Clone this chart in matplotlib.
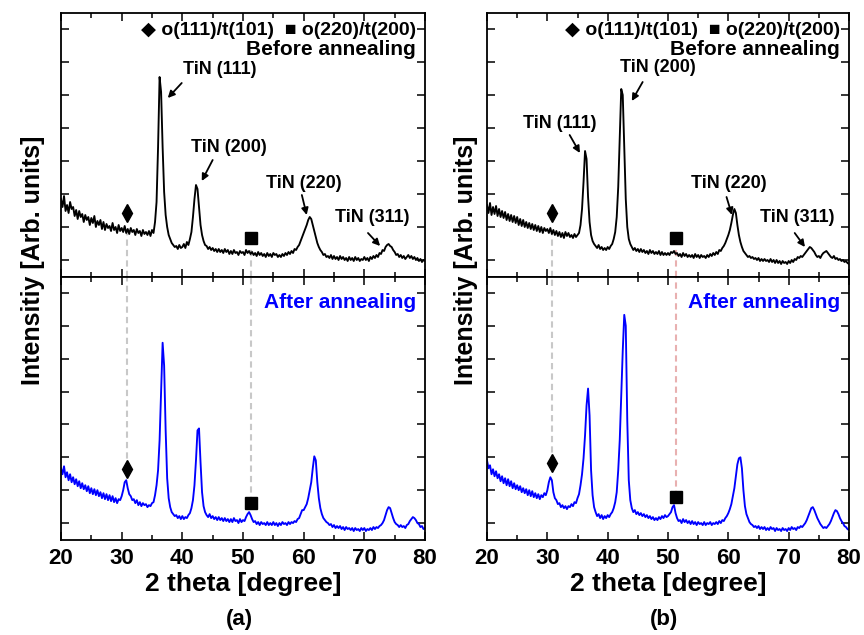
import numpy as np
import matplotlib.pyplot as plt
from matplotlib.ticker import MultipleLocator, FixedLocator

plt.rcParams['font.family'] = ['Liberation Sans', 'DejaVu Sans']
plt.rcParams['font.weight'] = 'bold'

# 2 theta grid, 0.25 degree step (241 points)
two_theta = np.linspace(20, 80, 241)

# intensities (arb. units)
a_before = [
    78, 70, 81, 66, 72, 64, 75, 68,
    70, 61, 67, 58, 66, 60, 63, 55,
    62, 57, 60, 52, 59, 54, 61, 50,
    56, 52, 57, 48, 55, 47, 53, 49,
    51, 46, 54, 47, 50, 44, 52, 46,
    49, 45, 51, 44, 48, 43, 49, 45,
    47, 42, 48, 44, 46, 41, 47, 43,
    45, 42, 46, 41, 47, 44, 55, 75,
    130, 200, 185, 130, 85, 62, 50, 42,
    38, 34, 32, 30, 31, 28, 32, 29,
    30, 33, 29, 35, 32, 38, 45, 60,
    78, 92, 88, 70, 52, 42, 36, 32,
    31, 28, 30, 27, 29, 26, 28, 25,
    28, 25, 27, 24, 28, 25, 27, 23,
    26, 23, 27, 24, 25, 22, 26, 24,
    25, 22, 27, 24, 26, 23, 25, 22,
    24, 21, 25, 22, 24, 21, 23, 20,
    24, 21, 23, 20, 24, 22, 23, 20,
    22, 20, 23, 21, 24, 22, 25, 23,
    26, 24, 28, 27, 30, 32, 36, 40,
    44, 48, 52, 57, 60, 58, 52, 46,
    40, 34, 30, 27, 25, 22, 23, 20,
    21, 19, 22, 18, 21, 18, 20, 17,
    21, 18, 20, 17, 19, 16, 20, 17,
    19, 16, 20, 17, 19, 16, 18, 17,
    20, 17, 19, 16, 20, 18, 21, 19,
    22, 20, 24, 23, 27, 26, 30, 32,
    33, 31, 30, 27, 25, 22, 23, 20,
    22, 19, 21, 18, 20, 22, 19, 21,
    18, 20, 17, 19, 16, 18, 15, 17,
    16,
]

a_after = [
    72, 66, 74, 63, 68, 60, 66, 58,
    63, 56, 61, 54, 59, 52, 57, 51,
    55, 49, 54, 47, 52, 46, 51, 45,
    50, 44, 48, 42, 47, 41, 46, 40,
    45, 39, 44, 38, 42, 37, 41, 40,
    44, 50, 58, 60, 52, 46, 44, 40,
    41, 37, 40, 35, 38, 34, 37, 35,
    36, 33, 35, 34, 37, 38, 45, 55,
    70, 100, 150, 198, 175, 110, 62, 42,
    33, 28, 26, 24, 25, 22, 24, 21,
    24, 21, 23, 22, 25, 27, 32, 40,
    55, 80, 110, 112, 78, 48, 34, 28,
    25, 23, 26, 22, 24, 21, 23, 20,
    23, 20, 22, 19, 22, 19, 21, 18,
    21, 18, 22, 19, 20, 17, 21, 18,
    20, 19, 23, 26, 28, 25, 21, 18,
    19, 16, 18, 15, 18, 16, 17, 15,
    18, 15, 17, 15, 18, 15, 17, 14,
    17, 15, 18, 16, 17, 15, 18, 16,
    18, 17, 19, 18, 21, 22, 26, 30,
    30, 33, 36, 42, 50, 58, 72, 84,
    80, 58, 42, 32, 26, 22, 20, 18,
    17, 15, 16, 13, 15, 12, 14, 12,
    14, 11, 13, 10, 13, 11, 12, 10,
    12, 9, 12, 10, 11, 9, 12, 10,
    12, 9, 11, 10, 12, 10, 13, 11,
    13, 12, 14, 15, 17, 20, 25, 30,
    33, 32, 27, 22, 18, 16, 15, 13,
    15, 13, 14, 12, 15, 16, 19, 21,
    23, 22, 20, 17, 16, 13, 14, 11,
    12,
]

b_before = [
    72, 64, 74, 62, 70, 63, 71, 61,
    68, 60, 66, 59, 65, 57, 63, 56,
    62, 55, 61, 54, 60, 52, 58, 51,
    57, 50, 55, 49, 54, 48, 53, 47,
    52, 46, 51, 45, 50, 44, 49, 46,
    48, 44, 49, 43, 47, 42, 46, 41,
    45, 40, 44, 39, 45, 41, 44, 40,
    42, 39, 43, 40, 42, 44, 52, 68,
    95, 126, 118, 80, 55, 42, 36, 33,
    31, 29, 32, 28, 30, 27, 29, 27,
    30, 28, 31, 33, 38, 45, 60, 90,
    140, 188, 182, 130, 78, 50, 38, 33,
    30, 27, 29, 26, 28, 25, 28, 25,
    27, 24, 26, 23, 27, 24, 26, 23,
    25, 23, 26, 22, 25, 22, 24, 22,
    24, 22, 25, 24, 26, 23, 24, 21,
    23, 20, 24, 21, 23, 20, 22, 20,
    22, 19, 23, 20, 22, 19, 22, 20,
    21, 19, 22, 20, 23, 21, 24, 22,
    25, 23, 27, 26, 29, 31, 34, 38,
    42, 47, 54, 62, 68, 64, 52, 42,
    35, 30, 26, 24, 22, 20, 21, 19,
    20, 18, 19, 17, 19, 16, 18, 16,
    18, 16, 17, 15, 18, 15, 17, 14,
    17, 14, 16, 13, 16, 14, 15, 13,
    16, 14, 17, 15, 18, 17, 20, 19,
    21, 20, 22, 24, 26, 28, 30, 29,
    27, 25, 22, 20, 21, 19, 22, 24,
    25, 26, 24, 22, 20, 19, 21, 18,
    19, 17, 18, 16, 17, 15, 16, 14,
    13,
]

b_after = [
    80, 72, 75, 66, 71, 64, 69, 62,
    66, 59, 64, 57, 62, 55, 61, 54,
    59, 52, 57, 51, 55, 50, 54, 48,
    52, 47, 51, 45, 50, 44, 49, 43,
    47, 42, 46, 41, 45, 43, 47, 45,
    50, 58, 63, 60, 48, 42, 40, 36,
    37, 33, 35, 32, 34, 31, 34, 33,
    36, 34, 38, 37, 42, 46, 55, 66,
    82, 105, 135, 152, 125, 70, 45, 33,
    28, 24, 26, 22, 25, 21, 24, 22,
    25, 23, 26, 28, 32, 38, 48, 70,
    100, 145, 190, 226, 215, 120, 60, 40,
    32, 28, 30, 26, 28, 25, 27, 24,
    26, 23, 25, 22, 24, 21, 23, 20,
    22, 20, 23, 21, 24, 22, 25, 23,
    24, 26, 28, 33, 35, 27, 22, 19,
    20, 17, 21, 18, 20, 17, 19, 16,
    19, 16, 18, 15, 18, 16, 17, 15,
    18, 15, 17, 16, 18, 15, 17, 16,
    18, 16, 19, 17, 20, 19, 22, 24,
    27, 31, 36, 44, 52, 64, 76, 82,
    83, 72, 50, 34, 26, 22, 18, 16,
    15, 13, 14, 12, 14, 11, 13, 11,
    13, 10, 12, 10, 13, 11, 12, 9,
    12, 10, 11, 9, 12, 10, 11, 9,
    12, 10, 13, 11, 12, 10, 13, 12,
    14, 13, 15, 17, 20, 24, 28, 32,
    33, 30, 26, 22, 19, 16, 14, 12,
    13, 12, 14, 16, 19, 23, 27, 30,
    29, 26, 22, 19, 17, 14, 13, 11,
    10,
]

for arr in (a_before, a_after, b_before, b_after):
    assert len(arr) == len(two_theta)

# phase marker positions: (2theta, intensity) for diamond o(111)/t(101) and square o(220)/t(200)
a_diamond = [(30.8, 64), (30.8, 71)]
a_square = [(51.3, 39), (51.3, 37)]
b_diamond = [(30.75, 64), (30.75, 77)]
b_square = [(51.35, 39), (51.35, 43)]

a_peak_labels = ['TiN (111)', 'TiN (200)', 'TiN (220)', 'TiN (311)']
b_peak_labels = ['TiN (111)', 'TiN (200)', 'TiN (220)', 'TiN (311)']

# annotation layout: text center, arrow tail, arrow head (data coords)
a_notes = [((46.2, 207), (39.9, 194), (37.6, 179)),
           ((47.6, 130), (45.0, 117), (43.2, 96)),
           ((60.0, 94), (59.7, 82), (60.5, 62)),
           ((71.3, 59), (70.6, 44), (72.6, 31))]
b_notes = [((32.1, 154), (33.7, 142), (35.4, 124)),
           ((48.4, 209), (45.8, 195), (44.0, 176)),
           ((60.0, 94), (59.7, 80), (60.6, 62)),
           ((71.4, 59), (71.0, 44), (72.7, 30))]

W, H = 864, 635
fig = plt.figure(figsize=(W / 100, H / 100), dpi=100)


def box(l, t, r, b):
    return [l / W, 1 - b / H, (r - l) / W, (b - t) / H]


def style(ax, bottom_labels):
    ax.set_xlim(20, 80)
    ax.set_ylim(0, 264)
    ax.xaxis.set_major_locator(MultipleLocator(10))
    ax.xaxis.set_minor_locator(MultipleLocator(5))
    ax.yaxis.set_major_locator(FixedLocator(np.arange(17, 264, 33)))
    ax.tick_params(which='both', direction='in', top=True, right=True,
                   labelleft=False, labelbottom=bottom_labels, width=1.1)
    ax.tick_params(which='major', length=6, labelsize=16, pad=6)
    ax.tick_params(which='minor', length=3.5)
    for s in ax.spines.values():
        s.set_linewidth(1.3)
    for lab in ax.get_xticklabels():
        lab.set_fontweight('bold')


def panel(left, right, before, after, diam, sq, labels, notes, line2_color, tag, ylab_x):
    ax1 = fig.add_axes(box(left, 13, right, 277))
    ax2 = fig.add_axes(box(left, 277, right, 540))
    style(ax1, False)
    style(ax2, True)

    ax1.plot(two_theta, before, color='black', lw=1.35)
    ax2.plot(two_theta, after, color='#0000ff', lw=1.35)

    # dashed guides through the phase markers
    dcol = '#c8c8c8'
    ax1.vlines(diam[0][0], 0, diam[0][1] - 18, colors=dcol, linestyles=(0, (3, 2)), lw=1.5, zorder=0)
    ax1.vlines(sq[0][0], 0, sq[0][1] - 10, colors=line2_color, linestyles=(0, (3, 2)), lw=1.5, zorder=0)
    ax2.vlines(diam[1][0], diam[1][1], 264, colors=dcol, linestyles=(0, (3, 2)), lw=1.5, zorder=0)
    ax2.vlines(sq[1][0], sq[1][1], 264, colors=line2_color, linestyles=(0, (3, 2)), lw=1.5, zorder=0)

    for ax, i in ((ax1, 0), (ax2, 1)):
        ax.plot(diam[i][0], diam[i][1], marker='d', ms=9, color='black', zorder=5)
        ax.plot(sq[i][0], sq[i][1], marker='s', ms=8.5, color='black', zorder=5)

    for lab, (txt, tail, head) in zip(labels, notes):
        ax1.text(txt[0], txt[1], lab, ha='center', va='center', fontsize=13, fontweight='bold')
        ax1.annotate('', xy=head, xytext=tail,
                     arrowprops=dict(arrowstyle='-|>', color='black', lw=1.3,
                                     mutation_scale=10, shrinkA=0, shrinkB=0))

    ax1.text(0.975, 0.917, '\u25c6 o(111)/t(101)  \u25a0 o(220)/t(200)', transform=ax1.transAxes,
             ha='right', va='baseline', fontsize=14, fontweight='bold')
    ax1.text(0.975, 0.84, 'Before annealing', transform=ax1.transAxes,
             ha='right', va='baseline', fontsize=15, fontweight='bold')
    ax2.text(0.975, 0.882, 'After annealing', transform=ax2.transAxes,
             ha='right', va='baseline', fontsize=15, fontweight='bold', color='#0000ff')

    cx = (left + right) / 2
    fig.text(cx / W, 1 - 584 / H, '2 theta [degree]', ha='center', va='center',
             fontsize=19, fontweight='bold')
    fig.text((cx - 4) / W, 1 - 620 / H, tag, ha='center', va='center',
             fontsize=16, fontweight='bold')
    fig.text(ylab_x / W, 1 - 260 / H, 'Intensitiy [Arb. units]', rotation=90,
             ha='center', va='center', fontsize=18, fontweight='bold')


panel(61, 425, a_before, a_after, a_diamond, a_square, a_peak_labels, a_notes,
      '#c8c8c8', '(a)', 33)
panel(487, 849, b_before, b_after, b_diamond, b_square, b_peak_labels, b_notes,
      '#e8b0b0', '(b)', 466)

fig.savefig('out.png', dpi=100)
